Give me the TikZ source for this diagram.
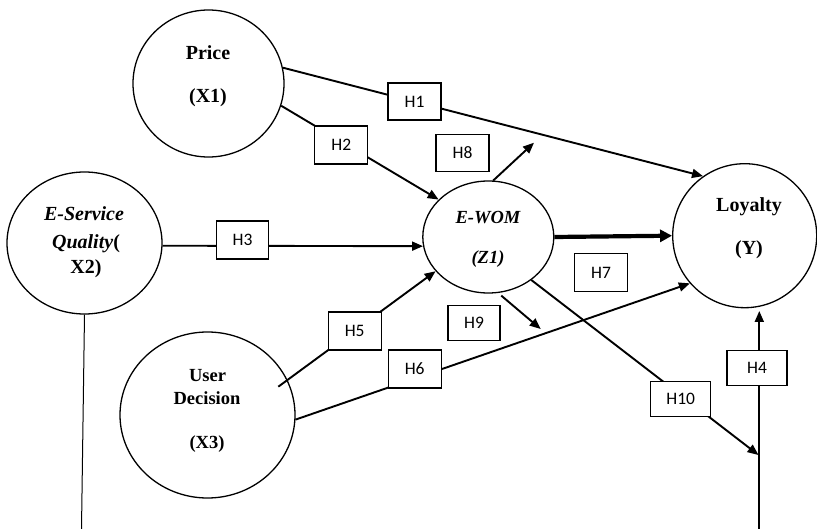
\documentclass[tikz,border=0pt]{standalone}
\usepackage{fontspec}
\setmainfont{Liberation Serif}
\newfontfamily\hfont{Carlito}
\usetikzlibrary{shapes.geometric,arrows.meta,calc}
\begin{document}
\begin{tikzpicture}[x=1pt,y=-1pt,
 var/.style={draw,ellipse,line width=1.3pt,inner sep=0pt},
 hbox/.style={draw,fill=white,line width=1.3pt,inner sep=0pt,minimum width=53pt,minimum height=37pt,font=\hfont\fontsize{17.5}{20}\selectfont},
 lbl/.style={anchor=base,inner sep=0pt,font=\bfseries\fontsize{20}{24}\selectfont},
 lblm/.style={anchor=base,inner sep=0pt,font=\bfseries\fontsize{18.5}{22}\selectfont},
 lblmi/.style={anchor=base,inner sep=0pt,font=\bfseries\itshape\fontsize{18.5}{22}\selectfont},
 arr/.style={line width=1.9pt,-{Triangle[length=11pt,width=9pt]}},
 thickarr/.style={line width=4.2pt,-{Triangle[length=12pt,width=12pt]}},
]
\useasboundingbox (0,0) rectangle (817,529);

% constructs
\node[var,minimum width=151pt,minimum height=147pt] (price) at (208.5,83.5) {};
\node[var,minimum width=155pt,minimum height=142pt] (eserv) at (84.5,243) {};
\node[var,minimum width=175pt,minimum height=166pt] (user) at (207.5,415) {};
\node[var,minimum width=131pt,minimum height=112pt] (ewom) at (488.3,237) {};
\node[var,minimum width=144pt,minimum height=144pt] (loyal) at (744.7,235.7) {};

% texts
\node[lbl] (tprice1) at (208,59.3) {Price};
\node[lbl] (tprice2) at (208,102.7) {(X1)};
\node[lbl,font=\bfseries\itshape\fontsize{20}{24}\selectfont] (tes1) at (84,220.7) {E-Service};
\node[lbl] (tes2) at (86,248.3) {\textit{Quality}(};
\node[lbl] (tes3) at (86,273.3) {X2)};
\node[lblmi] (tew1) at (488,223.3) {E-WOM};
\node[lblmi] (tew2) at (488,264) {(Z1)};
\node[lbl] (tlo1) at (749,211.7) {Loyalty};
\node[lbl] (tlo2) at (749,255) {(Y)};
\node[lblm] (tus1) at (207.5,381.7) {User};
\node[lblm] (tus2) at (207,405) {Decision};
\node[lblm] (tus3) at (207,448.3) {(X3)};

% free ends
\coordinate (ustart) at ($(user.center)+(70.8,-28.3)$);
\coordinate (h10end) at (758.5,455);
\coordinate (vbase) at (759.3,529);
\coordinate (vtop) at (759.3,311);
\coordinate (h8end) at (534,142.7);
\coordinate (h9end) at (540.7,329);
\coordinate (esbase) at (81.5,529);

% connectors
\draw[arr] (price.12) -- (loyal.125);
\draw[arr] (price.-17) -- (ewom.143);
\draw[arr] (eserv.-2) -- (ewom.188);
\draw[thickarr] (ewom.0) -- (loyal.180);
\draw[arr] (ustart) -- (ewom.213);
\draw[arr] (user.-3) -- (loyal.221);
\draw[arr] (ewom.-45) -- (h10end);
\draw[arr] (vbase) -- (vtop);
\draw[arr] (ewom.85) -- (h8end);
\draw[arr,shorten <=4pt] (ewom.-80) -- (h9end);
\draw[line width=1pt] (eserv.south) -- (esbase);

% hypothesis boxes
\node[hbox] (h1) at (414.5,101.5) {H1};
\node[hbox,minimum height=38pt] (h2) at (341.3,145) {H2};
\node[hbox] (h8) at (462.5,153) {H8};
\node[hbox,minimum height=38pt,minimum width=52pt] (h3) at (242.5,240) {H3};
\node[hbox,minimum height=38pt] (h7) at (601,272.5) {H7};
\node[hbox,minimum height=35pt,minimum width=52pt] (h9) at (474,323) {H9};
\node[hbox,minimum height=38pt] (h5) at (354.7,331) {H5};
\node[hbox,minimum height=38pt] (h6) at (414.7,369) {H6};
\node[hbox,minimum height=35pt,minimum width=60pt] (h10) at (680.7,399) {H10};
\node[hbox,minimum height=35pt,minimum width=60pt] (h4) at (757,368) {H4};
\end{tikzpicture}
\end{document}
